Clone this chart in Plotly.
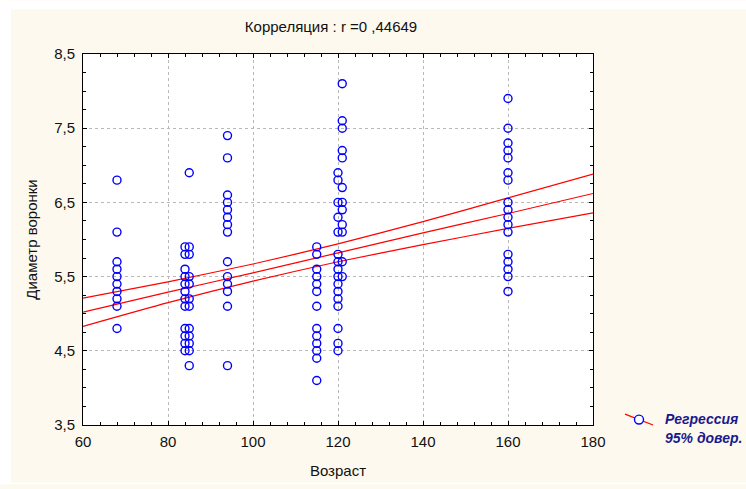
import plotly.graph_objects as go

# Age groups and measured funnel diameters for each group
ages = [68, 84, 85, 94, 115, 120, 121, 160]
diameters = [
    [6.8, 6.1, 5.7, 5.6, 5.5, 5.4, 5.3, 5.2, 5.1, 4.8],
    [5.9, 5.8, 5.6, 5.5, 5.4, 5.3, 5.2, 5.1, 4.8, 4.7, 4.6, 4.5],
    [6.9, 5.9, 5.8, 5.5, 5.4, 5.2, 5.1, 4.8, 4.7, 4.6, 4.5, 4.3],
    [7.4, 7.1, 6.6, 6.5, 6.4, 6.3, 6.2, 6.1, 5.7, 5.5, 5.4, 5.3, 5.1, 4.3],
    [5.9, 5.8, 5.6, 5.5, 5.4, 5.3, 5.1, 4.8, 4.7, 4.6, 4.5, 4.4, 4.1],
    [6.9, 6.8, 6.5, 6.3, 6.1, 5.8, 5.7, 5.6, 5.5, 5.4, 5.3, 5.2, 5.1, 4.8, 4.6, 4.5],
    [8.1, 7.6, 7.5, 7.2, 7.1, 6.7, 6.5, 6.4, 6.2, 6.1, 5.7, 5.5],
    [7.9, 7.5, 7.3, 7.2, 7.1, 6.9, 6.8, 6.5, 6.4, 6.3, 6.2, 6.1, 5.8, 5.7, 5.6, 5.5, 5.3],
]

# Regression line and its 95% confidence limits at the x tick positions
fit_x = [60, 80, 100, 120, 140, 160, 180]
fit_mid = [5.02, 5.29, 5.55, 5.82, 6.09, 6.35, 6.62]
fit_upper = [5.21, 5.43, 5.67, 5.94, 6.24, 6.56, 6.88]
fit_lower = [4.83, 5.15, 5.44, 5.70, 5.93, 6.15, 6.36]

x_ticks = [60, 80, 100, 120, 140, 160, 180]
y_ticks = [3.5, 4.5, 5.5, 6.5, 7.5, 8.5]
y_tick_text = ["3,5", "4,5", "5,5", "6,5", "7,5", "8,5"]

title_text = "Корреляция : r =0 ,44649"
x_title = "Возраст"
y_title = "Диаметр воронки"
legend_lines = ["Регрессия", "95% довер."]

x = [a for a, ds in zip(ages, diameters) for _ in ds]
y = [d for ds in diameters for d in ds]

RED = "#ff0000"
BLUE = "#0000ff"
CREAM = "#fdf9ee"
FONT = "Liberation Sans, Arial, sans-serif"
TXT = "#111111"

fig = go.Figure()
for band in (fit_upper, fit_lower, fit_mid):
    fig.add_trace(go.Scatter(x=fit_x, y=band, mode="lines",
                             line=dict(color=RED, width=1.2, shape="spline", smoothing=0.6),
                             hoverinfo="skip", showlegend=False))
fig.add_trace(go.Scatter(x=x, y=y, mode="markers",
                         marker=dict(symbol="circle-open", size=8,
                                     color=BLUE, line=dict(width=1.4, color=BLUE)),
                         showlegend=False))

# plot area in pixels
L, T, R, B = 83, 54, 593, 429
W, H = 746, 489


def px(xp):
    return (xp - L) / (R - L)


def py(yp):
    return (B - yp) / (B - T)


axis_common = dict(
    showline=True, linecolor="black", linewidth=1, mirror="ticks",
    ticks="inside", ticklen=4, tickcolor="black",
    showgrid=True, gridcolor="#b8b8b8", griddash="dot", gridwidth=1,
    zeroline=False,
    tickfont=dict(family=FONT, size=15, color=TXT),
)

fig.update_xaxes(
    range=[60, 180], tickvals=x_ticks, ticktext=[str(v) for v in x_ticks],
    minor=dict(dtick=4, tick0=60, ticks="inside", ticklen=3, tickcolor="black", showgrid=False),
    title=dict(text=x_title, font=dict(family=FONT, size=15, color=TXT), standoff=16),
    ticklabelstandoff=3,
    **axis_common,
)
fig.update_yaxes(
    range=[3.5, 8.5], tickvals=y_ticks, ticktext=y_tick_text,
    minor=dict(dtick=0.25, tick0=3.5, ticks="inside", ticklen=3, tickcolor="black", showgrid=False),
    title=dict(text=y_title, font=dict(family=FONT, size=15, color=TXT), standoff=12),
    ticklabelstandoff=4,
    **axis_common,
)

shapes = [
    # white edge along the left, top and bottom of the page
    dict(type="rect", xref="paper", yref="paper", x0=px(0), x1=px(11), y0=py(H), y1=py(0),
         fillcolor="white", line=dict(width=0), layer="above"),
    dict(type="rect", xref="paper", yref="paper", x0=px(0), x1=px(W), y0=py(9), y1=py(0),
         fillcolor="white", line=dict(width=0), layer="above"),
    dict(type="rect", xref="paper", yref="paper", x0=px(0), x1=px(W), y0=py(H), y1=py(487),
         fillcolor="white", line=dict(width=0), layer="above"),
    # legend key
    dict(type="line", xref="paper", yref="paper", x0=px(625), y0=py(418), x1=px(653), y1=py(429),
         line=dict(color=RED, width=1.2)),
    dict(type="circle", xref="paper", yref="paper",
         x0=px(639 - 4.5), x1=px(639 + 4.5), y0=py(423.5 + 4.5), y1=py(423.5 - 4.5),
         fillcolor="white", line=dict(color=BLUE, width=1.4)),
]

annotations = [
    dict(text=f"<b><i>{legend_lines[0]}</i></b>", xref="paper", yref="paper",
         x=px(663), y=py(423), xanchor="left", yanchor="middle", showarrow=False,
         font=dict(family=FONT, size=14, color="#1a1a8c")),
    dict(text=f"<b><i>{legend_lines[1]}</i></b>", xref="paper", yref="paper",
         x=px(663), y=py(442), xanchor="left", yanchor="middle", showarrow=False,
         font=dict(family=FONT, size=14, color="#1a1a8c")),
]

fig.update_layout(
    width=W, height=H,
    margin=dict(l=L, r=W - R, t=T, b=H - B),
    paper_bgcolor=CREAM, plot_bgcolor="white",
    title=dict(text=title_text, x=331 / W, xanchor="center", y=1 - 27 / H, yanchor="middle",
               font=dict(family=FONT, size=15, color=TXT)),
    shapes=shapes, annotations=annotations,
    showlegend=False,
)

fig.write_html("out.html")
